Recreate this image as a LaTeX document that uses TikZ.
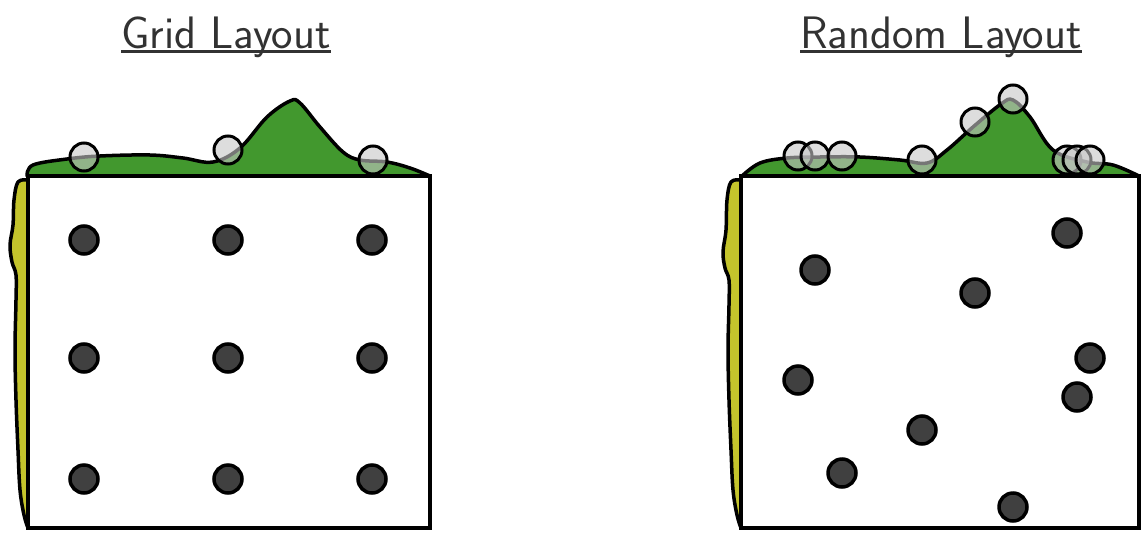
\documentclass[tikz,border=0pt]{standalone}
\usepackage{tikz}
\usepackage{xcolor}
\usetikzlibrary{positioning}
\definecolor{kdegreen}{RGB}{66,152,46}
\definecolor{kdeyellow}{RGB}{196,196,44}
\definecolor{dotgray}{RGB}{64,64,64}
\definecolor{titlegray}{RGB}{50,50,50}

\begin{document}
\begin{tikzpicture}[x=1pt, y=-1pt,
  title/.style={anchor=base, inner sep=0pt, text=titlegray, font=\sffamily\fontsize{45.5}{50}\selectfont},
  uline/.style={line width=3pt, titlegray},
  panel/.style={draw=black, fill=white, line width=4pt},
  density/.style={draw=black, fill=#1, line width=3.5pt, line join=round},
  sample/.style={draw=black, fill=dotgray, line width=3.5pt},
  probe/.style={draw=black, fill=gray!45, fill opacity=0.6, line width=3pt}
]
\useasboundingbox (0,0) rectangle (1145,533);

% titles
\node[title] (gridtitle) at (226,48) {Grid Layout};
\node[title] (randtitle) at (941,48) {Random Layout};
\draw[uline] ([yshift=-3.5pt]gridtitle.base west) -- ([yshift=-3.5pt]gridtitle.base east);
\draw[uline] ([yshift=-3.5pt]randtitle.base west) -- ([yshift=-3.5pt]randtitle.base east);

% grid layout: marginal densities
\draw[density=kdegreen] plot[smooth, tension=0.6] coordinates {(27,176) (33,165) (67,159) (100,156) (150,155) (183,158) (213,162) (240,148) (267,117) (290,101) (300,103) (320,127) (343,152) (360,160) (387,162) (410,168) (430,176)} -- cycle;
\draw[density=kdeyellow] plot[smooth, tension=0.6] coordinates {(28,180) (18,182) (14,200) (13,225) (10,245) (12,262) (16,275) (16,300) (15,350) (16,400) (18,450) (20,490) (24,515) (28,528)} -- cycle;
\draw[panel] (28,176) rectangle (430,528);
\foreach \x in {84,228,372}
  \foreach \y in {240,358,479}
    \draw[sample] (\x,\y) circle (14);
\foreach \x/\y in {84/157, 228/150, 373/160}
  \draw[probe] (\x,\y) circle (14);

% random layout: marginal densities
\draw[density=kdegreen] plot[smooth, tension=0.6] coordinates {(742,176) (760,163) (787,158) (820,157) (860,157) (900,160) (927,163) (947,150) (973,127) (1001,104) (1013,100) (1030,117) (1053,150) (1087,162) (1113,165) (1139,176)} -- cycle;
\draw[density=kdeyellow] plot[smooth, tension=0.6] coordinates {(741,180) (731,182) (727,200) (726,230) (723,252) (725,268) (729,280) (729,305) (728,350) (729,400) (731,450) (733,490) (737,515) (741,528)} -- cycle;
\draw[panel] (741,176) rectangle (1139,528);
\foreach \x/\y in {815/270, 1067/233, 975/293, 1090/358, 798/380, 1077/397, 922/430, 842/473, 1013/507}
  \draw[sample] (\x,\y) circle (14);
\foreach \x/\y in {798/156, 815/156, 842/156, 922/160, 975/122, 1013/99, 1067/160, 1077/160, 1090/160}
  \draw[probe] (\x,\y) circle (14);
\end{tikzpicture}
\end{document}
